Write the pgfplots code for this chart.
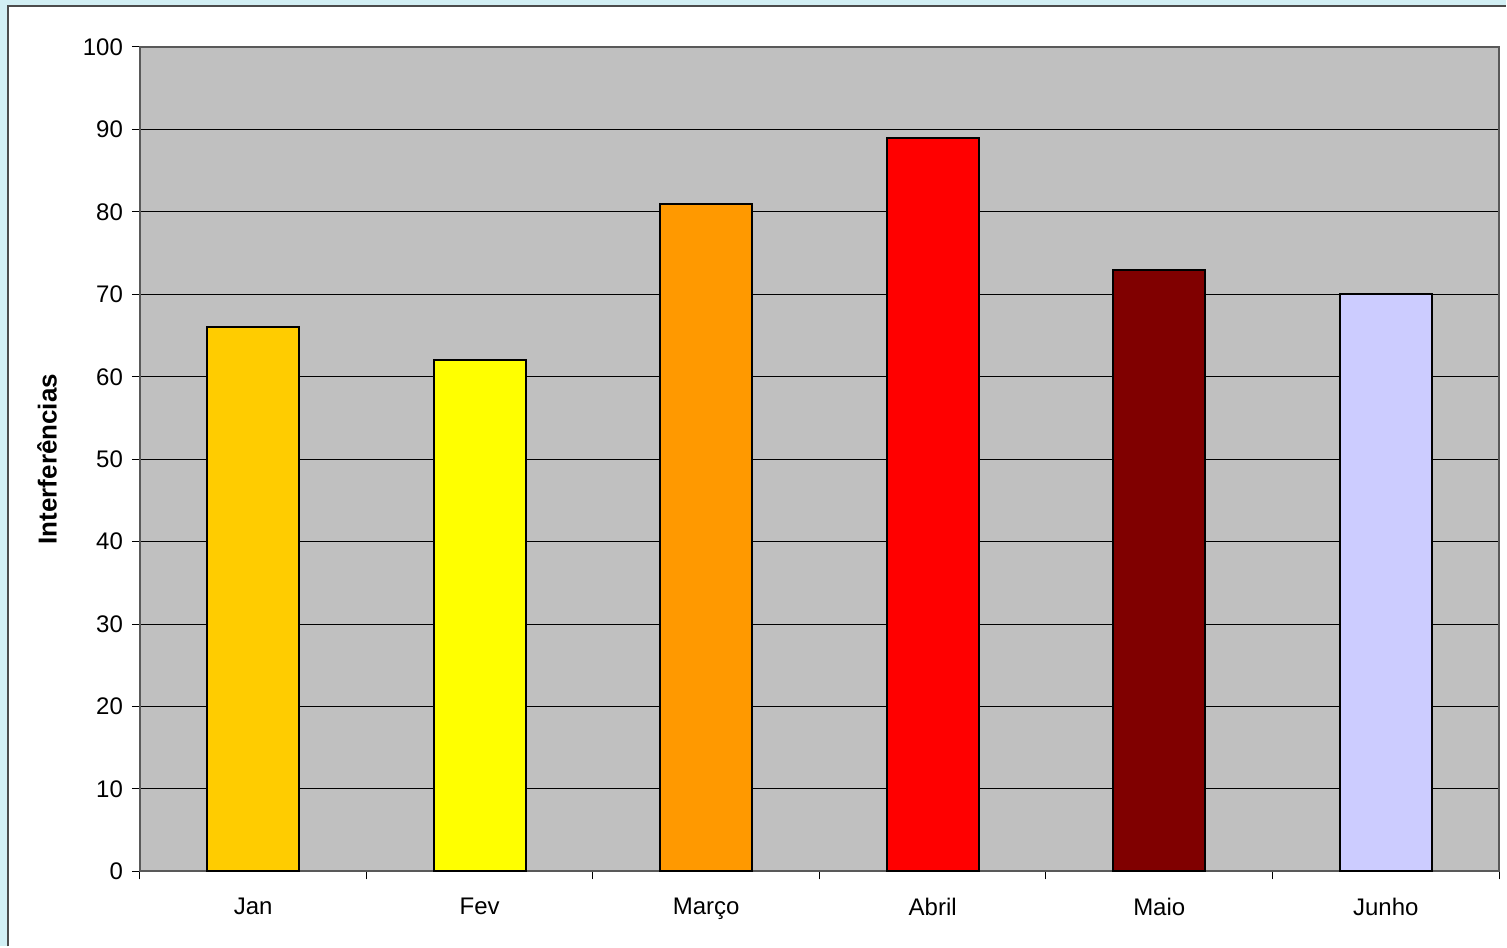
\documentclass[border=0pt]{standalone}
\usepackage{fontspec}
\setmainfont{Liberation Sans}
\usepackage{pgfplots}
\pgfplotsset{compat=1.18}
\usetikzlibrary{backgrounds}
\definecolor{cjan}{HTML}{FFCC00}
\definecolor{cfev}{HTML}{FFFF00}
\definecolor{cmar}{HTML}{FF9900}
\definecolor{cabr}{HTML}{FF0000}
\definecolor{cmai}{HTML}{800000}
\definecolor{cjun}{HTML}{CCCCFF}
\definecolor{plotgray}{HTML}{C0C0C0}
\definecolor{outerblue}{HTML}{D2EFF4}
\begin{document}
\begin{tikzpicture}
\begin{axis}[
  scale only axis,
  width=680pt, height=412.5pt,
  at={(0,0)}, anchor=south west,
  xmin=-0.5, xmax=5.5,
  ymin=0, ymax=100,
  ytick={0,10,...,100},
  xtick={0,...,5},
  xticklabels={Jan,Fev,Março,Abril,Maio,Junho},
  minor xtick={-0.5,0.5,...,5.5},
  major x tick style={draw=none},
  tick align=outside,
  major tick length=4pt,
  minor tick length=4pt,
  xtick pos=bottom, ytick pos=left,
  ymajorgrids,
  grid style={black, line width=0.5pt},
  axis line style={draw=gray!70!black, line width=1pt},
  tick style={black, line width=0.5pt},
  axis background/.style={fill=plotgray},
  ylabel={\bfseries Interferências},
  ylabel style={at={(axis description cs:0,0.5)}, anchor=south, yshift=38pt},
  tick label style={font=\fontsize{12}{14}\selectfont},
  label style={font=\fontsize{13}{15}\selectfont},
  yticklabel style={xshift=-1pt},
  xticklabel style={yshift=-6pt},
  /pgf/number format/assume math mode=true,
  ybar, bar width=46pt, bar shift=0pt,
  every axis plot/.append style={draw=black, line width=1pt},
]
\addplot[fill=cjan] coordinates {(0,66)};
\addplot[fill=cfev] coordinates {(1,62)};
\addplot[fill=cmar] coordinates {(2,81)};
\addplot[fill=cabr] coordinates {(3,89)};
\addplot[fill=cmai] coordinates {(4,73)};
\addplot[fill=cjun] coordinates {(5,70)};
\end{axis}
\begin{scope}[on background layer]
\fill[outerblue] (-70pt,-37.5pt) rectangle (683.5pt,436pt);
\fill[white] (-66pt,-37.5pt) rectangle (683.5pt,433pt);
\draw[gray!60!black, line width=1pt] (-66pt,-37.5pt) -- (-66pt,433pt) -- (683.5pt,433pt);
\end{scope}
\end{tikzpicture}
\end{document}
